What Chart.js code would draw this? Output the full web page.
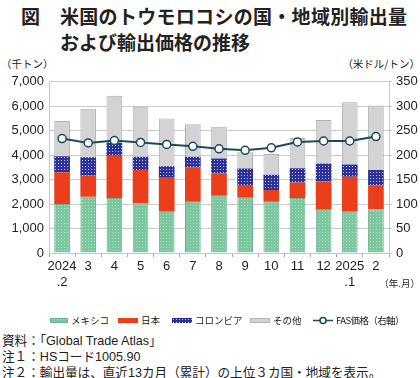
<!DOCTYPE html>
<html>
<head>
<meta charset="utf-8">
<script src="https://cdn.jsdelivr.net/npm/chart.js@4.4.1/dist/chart.umd.min.js"></script>
<style>
  html, body { margin: 0; padding: 0; background: #fff; }
  body { width: 420px; height: 378px; position: relative; overflow: hidden;
         font-family: "Liberation Sans", "Noto Sans CJK JP", sans-serif; color: #222; }
  .abs { position: absolute; white-space: nowrap; }
  .title { font-family: "Noto Sans CJK JP", sans-serif; font-size: 19px; font-weight: bold; line-height: 22px; }
  .unit { font-family: "Noto Sans CJK JP", sans-serif; font-size: 10.5px; top: 56px; }
  #wrap { position: absolute; left: 0; top: 69px; width: 420px; height: 233px; }
  .lg { top: 313px; font-size: 9.5px; display: flex; align-items: center; height: 14px;
        font-family: "Noto Sans CJK JP", sans-serif; }
  .lg canvas { margin-right: 3px; }
  .note { font-size: 12.6px; left: 2px; line-height: 16px; }
</style>
</head>
<body>
<div class="abs title" style="left:21px; top:5px;">図</div>
<div class="abs title" style="left:60px; top:5px; letter-spacing:0.3px;">米国のトウモロコシの国・地域別輸出量</div>
<div class="abs title" style="left:60px; top:31px;">および輸出価格の推移</div>
<div class="abs unit" style="left:1px;">（千トン）</div>
<div class="abs unit" style="right:0px;">（米ドル/トン）</div>

<div id="wrap"><canvas id="chart" width="420" height="233"></canvas></div>

<div class="abs" style="right:0px; top:276px; font-size:9.5px; font-family:'Noto Sans CJK JP',sans-serif;">（年.月）</div>

<div class="abs lg" style="left:50px;"><canvas id="sw-mx" width="18" height="5"></canvas>メキシコ</div>
<div class="abs lg" style="left:118px;"><canvas id="sw-jp" width="20" height="5"></canvas>日本</div>
<div class="abs lg" style="left:172px;"><canvas id="sw-co" width="20" height="5"></canvas>コロンビア</div>
<div class="abs lg" style="left:250px;"><canvas id="sw-ot" width="20" height="5"></canvas>その他</div>
<div class="abs lg" style="left:313px; letter-spacing:-0.6px;"><canvas id="sw-fas" width="20" height="9"></canvas>FAS価格（右軸）</div>

<div class="abs note" style="top:333px;">資料：「Global Trade Atlas」</div>
<div class="abs note" style="top:349px;">注１：HSコード1005.90</div>
<div class="abs note" style="top:365px;">注２：輸出量は、直近13カ月（累計）の上位３カ国・地域を表示。</div>

<script>
// ---- data (千トン / 米ドル・トン) ----
const months   = [["2024", ".2"], "3", "4", "5", "6", "7", "8", "9", "10", "11", "12", ["2025", ".1"], "2"];
const mexico   = [2000, 2300, 2250, 2030, 1720, 2100, 2340, 2290, 2100, 2250, 1800, 1720, 1790];
const japan    = [1300,  860, 1730, 1360, 1360, 1400,  920,  460,  480,  630, 1120, 1400,  970];
const colombia = [ 660,  760,  540,  550,  470,  440,  600,  700,  620,  590,  740,  500,  630];
const others   = [1440, 1980, 1910, 2040, 1950, 1320, 1300,  670,  850, 1230, 1780, 2540, 2640];
const fasPrice = [234, 225, 230, 226, 222, 218, 213, 210, 215, 227, 229, 229, 238];
const leftTicks  = [0, 1000, 2000, 3000, 4000, 5000, 6000, 7000];
const rightTicks = [0, 50, 100, 150, 200, 250, 300, 350];

// ---- patterns ----
function makePattern(size, bg, dot, dots) {
  const c = document.createElement("canvas");
  c.width = size; c.height = size;
  const g = c.getContext("2d");
  g.fillStyle = bg; g.fillRect(0, 0, size, size);
  g.fillStyle = dot;
  dots.forEach(d => g.fillRect(d[0], d[1], 1, 1));
  return g.createPattern(c, "repeat");
}
const ctx = document.getElementById("chart").getContext("2d");
const greenFill = makePattern(3, "#7cc6a0", "#a9dcc1", [[1, 1]]);
const blueFill  = makePattern(3, "#2b309a", "#c9cbf0", [[1, 1]]);
const redFill   = "#ea3f1a";
const grayFill  = "#d3d3d3";
const lineColor = "#1d4a5c";

function swatch(id, fill, border) {
  const el = document.getElementById(id);
  const g = el.getContext("2d");
  g.fillStyle = fill; g.fillRect(0, 0, el.width, 5);
  if (border) { g.strokeStyle = border; g.lineWidth = 1; g.strokeRect(0.5, 0.5, el.width - 1, 4); }
}
swatch("sw-mx", greenFill, "#6db28e");
swatch("sw-jp", redFill);
swatch("sw-co", blueFill);
swatch("sw-ot", grayFill, "#b5b5b5");
(function () {
  const g = document.getElementById("sw-fas").getContext("2d");
  g.strokeStyle = lineColor; g.lineWidth = 1.5;
  g.beginPath(); g.moveTo(0, 4.5); g.lineTo(20, 4.5); g.stroke();
  g.fillStyle = "#fff"; g.beginPath(); g.arc(10, 4.5, 3, 0, Math.PI * 2); g.fill(); g.stroke();
})();

const tickFont = { family: "'Liberation Sans', Arial, sans-serif", size: 13 };

new Chart(ctx, {
  type: "bar",
  data: {
    labels: months,
    datasets: [
      { type: "line", label: "FAS価格（右軸）", data: fasPrice, yAxisID: "y1",
        borderColor: lineColor, borderWidth: 2, tension: 0,
        pointRadius: 4, pointBackgroundColor: "#fff", pointBorderColor: lineColor,
        pointBorderWidth: 1.5, order: 0 },
      { label: "メキシコ", data: mexico, backgroundColor: greenFill,
        borderColor: "#6db28e", borderWidth: 1, stack: "s", order: 1 },
      { label: "日本", data: japan, backgroundColor: redFill,
        borderColor: "#d8360f", borderWidth: 0, stack: "s", order: 1 },
      { label: "コロンビア", data: colombia, backgroundColor: blueFill,
        borderColor: "#2b309a", borderWidth: 0, stack: "s", order: 1 },
      { label: "その他", data: others, backgroundColor: grayFill,
        borderColor: "#b0b0b0", borderWidth: 1, stack: "s", order: 1 }
    ]
  },
  options: {
    responsive: false,
    animation: false,
    layout: { padding: { top: 6, bottom: 0, left: 0, right: 0 } },
    datasets: { bar: { categoryPercentage: 1, barPercentage: 0.6 } },
    plugins: { legend: { display: false }, tooltip: { enabled: false } },
    scales: {
      x: {
        stacked: true,
        grid: { offset: true, drawOnChartArea: false, drawTicks: true, tickLength: 4, color: "#aaaaaa" },
        border: { color: "#c8c8c8" },
        ticks: { color: "#222", font: tickFont, maxRotation: 0, autoSkip: false, padding: 2 },
        afterFit: s => { s.height = 49; }
      },
      y: {
        stacked: true, min: 0, max: 7000,
        afterBuildTicks: s => { s.ticks = leftTicks.map(v => ({ value: v })); },
        ticks: { color: "#222", font: tickFont, padding: 5,
                 callback: v => v.toLocaleString("en-US") },
        grid: { color: "#cccccc", lineWidth: 1, drawTicks: false },
        border: { color: "#c8c8c8" },
        afterFit: s => { s.width = 49; }
      },
      y1: {
        position: "right", min: 0, max: 350,
        afterBuildTicks: s => { s.ticks = rightTicks.map(v => ({ value: v })); },
        ticks: { color: "#222", font: tickFont, padding: 4 },
        grid: { drawOnChartArea: false, drawTicks: true, tickLength: 3, color: "#c8c8c8" },
        border: { color: "#c8c8c8" },
        afterFit: s => { s.width = 31; }
      }
    }
  }
});
</script>
</body>
</html>
